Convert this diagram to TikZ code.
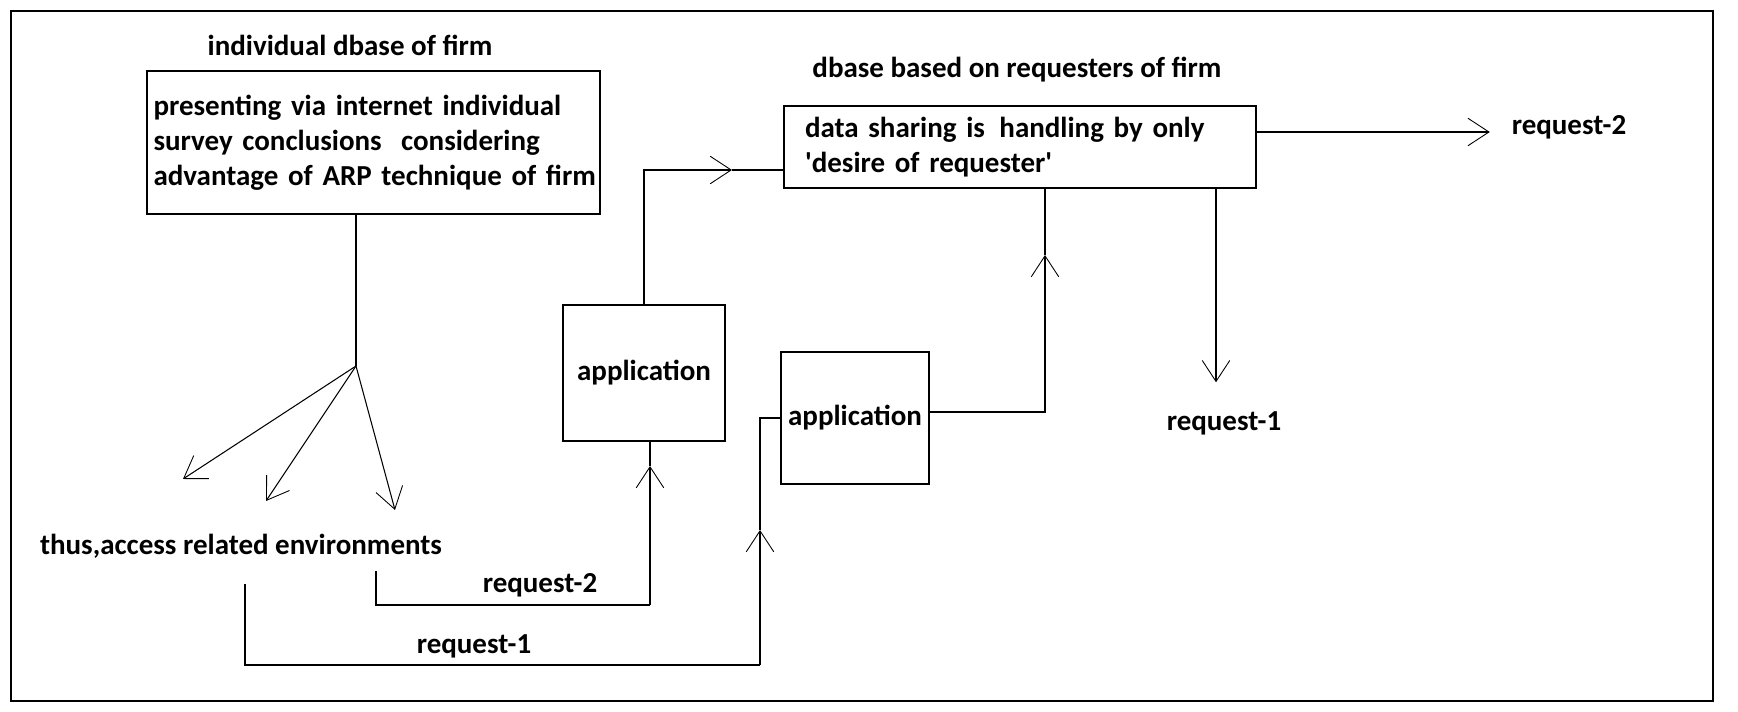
\documentclass[tikz,border=0pt]{standalone}
\usepackage{fontspec}
\setmainfont{Carlito}
\usepackage{tikz}
\usetikzlibrary{arrows.meta}

\begin{document}
\begin{tikzpicture}[x=0.02cm, y=-0.02cm, line width=0.6pt,
    every node/.style={font=\fontsize{16.5}{20}\selectfont\bfseries},
    box/.style={draw, line width=0.7pt},
    lbl/.style={inner sep=2pt},
    arr/.style={-{Straight Barb[length=0.42cm, width=0.55cm, line width=0.5pt]}}]
    \useasboundingbox (0,0) rectangle (1738,712);
    \draw[line width=0.8pt] (11,11) rectangle (1713,701);

    \node[lbl] (title1) at (350,45) {individual dbase of firm};
    \node[box, align=left, text width=9.0cm, inner xsep=0.03cm, minimum height=2.86cm] (db1) at (373.5,142.5)
        {\hspace{0.1cm}presenting via internet individual\\\hspace{0.1cm}survey conclusions \ considering\\\hspace{0.1cm}advantage of ARP technique of firm};
    \node[lbl] (env) at (241,546) {thus,access related environments};

    \node[box, minimum width=3.24cm, minimum height=2.72cm] (app1) at (644,373) {application};
    \node[box, minimum width=2.96cm, minimum height=2.64cm] (app2) at (855,418) {application};

    \node[lbl] (title2) at (1017,70) {dbase based on requesters of firm};
    \node[box, align=left, text width=8.6cm, inner xsep=0.42cm, minimum height=1.64cm] (db2) at (1020,147)
        {data sharing is \,handling by only\\\textquotesingle desire of requester\textquotesingle};

    \node[lbl] (out2) at (1569,127) {request-2};
    \node[lbl] (out1) at (1224,423) {request-1};
    \node[lbl] (lreq2) at (540,585) {request-2};
    \node[lbl] (lreq1) at (474,646) {request-1};

    % fan out of the firm dbase
    \coordinate (fan) at (356,366);
    \draw (fan |- db1.south) -- (fan);
    \coordinate (e1) at (183,479);
    \coordinate (e2) at (266,501);
    \coordinate (e3) at (395,510);
    \foreach \e in {e1,e2,e3}
        \draw[arr] (fan) -- (\e);

    % request-2 route
    \coordinate (r2a) at (376,571);
    \coordinate (r2b) at (650,605);
    \coordinate (r2c) at (650,466);
    \draw (r2a) |- (r2b);
    \draw[arr] (r2b) -- (r2c);
    \draw (r2c) -- (r2c |- app1.south);

    % request-1 route
    \coordinate (r1a) at (245,584);
    \coordinate (r1b) at (760,665);
    \coordinate (r1c) at (760,530);
    \draw (r1a) |- (r1b);
    \draw[arr] (r1b) -- (r1c);
    \draw (r1c) |- (app2.west);

    % applications to second dbase
    \coordinate (a1) at (732,170);
    \draw[arr] (app1.north) |- (a1);
    \draw (a1) -- (db2.west |- a1);
    \coordinate (a2) at (1045,255);
    \draw[arr] ([yshift=0.12cm]app2.east) -| (a2);
    \draw (a2) -- (a2 |- db2.south);

    % outputs
    \draw[arr, shorten >=0.36cm] (db2.east |- 0,132) -- (out2.west |- 0,132);
    \draw[arr, shorten >=0.5cm] (db2.south -| 1216,0) -- (out1.north -| 1216,0);
\end{tikzpicture}
\end{document}
